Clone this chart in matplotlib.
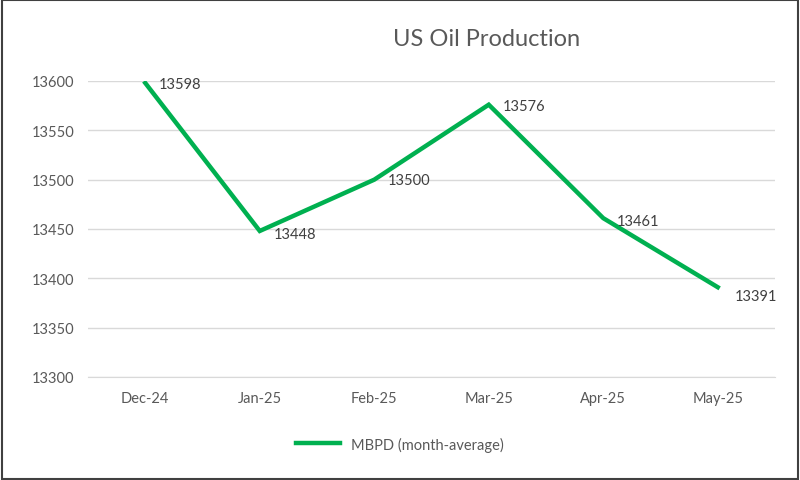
import matplotlib
matplotlib.use("Agg")
import matplotlib.pyplot as plt
from matplotlib.patches import Rectangle

categories = ["Dec-24", "Jan-25", "Feb-25", "Mar-25", "Apr-25", "May-25"]
values = [13598, 13448, 13500, 13576, 13461, 13391]
yticks = [13300, 13350, 13400, 13450, 13500, 13550, 13600]
label_offsets = [(10, -1), (10, -2), (10, 0), (10, -1), (10, -2), (12, -6)]

plt.rcParams["font.family"] = "Lato"
fig = plt.figure(figsize=(8, 4.81), dpi=100)
ax = fig.add_axes([88/800, 1-378/481, 687/800, (378-82)/481])
x = list(range(len(categories)))
ax.plot(x, values, color="#00B050", lw=3.2, solid_joinstyle="miter")
for xi, v, off in zip(x, values, label_offsets):
    ax.annotate(str(v), (xi, v), xytext=off, textcoords="offset points",
                ha="left", va="center", fontsize=10.5, color="#404040")
ax.set_xlim(-0.5, 5.5)
ax.set_ylim(13300, 13600)
ax.set_yticks(yticks)
ax.set_xticks(x)
ax.set_xticklabels(categories)
ax.tick_params(axis="both", length=0, labelsize=10.5, labelcolor="#595959")
ax.tick_params(axis="y", pad=10)
ax.tick_params(axis="x", pad=10)
ax.grid(axis="y", color="#D9D9D9", lw=1)
ax.set_axisbelow(True)
for s in ["top", "right", "left"]:
    ax.spines[s].set_visible(False)
ax.spines["bottom"].set_color("#D9D9D9")
fig.text(487/800, 1-40/481, "US Oil Production", ha="center", va="center",
         fontsize=17, color="#595959")
ax.legend(["MBPD (month-average)"], loc="center", bbox_to_anchor=((400-88)/687, (378-445)/296),
          frameon=False, fontsize=10.5, labelcolor="#595959", handlelength=3)
fig.patches.append(Rectangle((0.002, 0.002), 0.996, 0.996, transform=fig.transFigure,
                             fill=False, ec="#404040", lw=1.5))
fig.savefig("out.png", dpi=100)
